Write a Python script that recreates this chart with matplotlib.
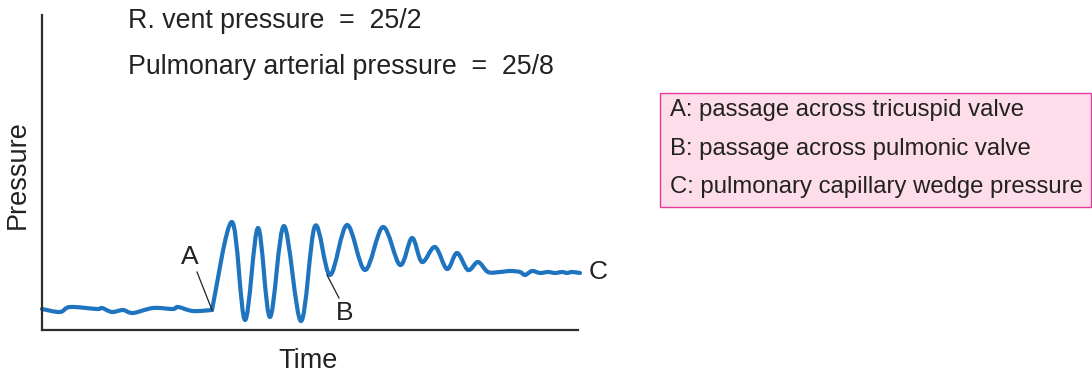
import numpy as np
import matplotlib
matplotlib.use("Agg")
import matplotlib.pyplot as plt
from matplotlib.path import Path
from matplotlib.patches import PathPatch, Rectangle

plt.rcParams["font.family"] = ["Liberation Sans", "DejaVu Sans"]

# Catheter pressure trace: time (arbitrary units) and pressure (arbitrary units)
time = [42, 60, 70, 97, 102, 112, 123, 133, 153, 173, 178, 193, 212,
        232, 245, 258, 270, 284, 301, 315, 330, 347, 365, 383, 400, 412,
        422, 435, 447, 457, 468, 478, 488, 500, 510, 520, 525, 532, 540,
        548, 555, 562, 567, 572, 580]
pressure = [21, 18, 23, 21, 22, 18, 20, 17, 22, 21, 23, 19, 20,
            108, 10, 102, 13, 104, 9, 104, 55, 105, 60, 103, 65, 92,
            68, 83, 61, 77, 60, 68, 58, 58, 59, 58, 55, 59, 57,
            58, 57, 58, 57, 58, 57]
catheter_entry = 12  # index of point A: catheter reaches the ventricle

header_lines = ["R. vent pressure  =  25/2", "Pulmonary arterial pressure  =  25/8"]
key_lines = ["A: passage across tricuspid valve",
             "B: passage across pulmonic valve",
             "C: pulmonary capillary wedge pressure"]
point_labels = ["A", "B", "C"]

W, H = 1092, 373
TXT = "#222222"
fig = plt.figure(figsize=(W / 100, H / 100), dpi=100)
ax = fig.add_axes([42 / W, (H - 330) / H, (578 - 42) / W, 315 / H])
ax.set_xlim(42, 578)
ax.set_ylim(0, 315)
ax.set_xticks([])
ax.set_yticks([])
for s in ["top", "right"]:
    ax.spines[s].set_visible(False)
for s in ["left", "bottom"]:
    ax.spines[s].set_color("#2e2e2e")
    ax.spines[s].set_linewidth(1.6)


def smooth_path(xs, ys):
    """Cubic Bezier path through the points (Catmull-Rom tangents)."""
    pts = np.column_stack([xs, ys]).astype(float)
    n = len(pts)
    verts = [pts[0]]
    codes = [Path.MOVETO]
    for i in range(n - 1):
        p0 = pts[i - 1] if i > 0 else pts[i]
        p1 = pts[i]
        p2 = pts[i + 1]
        p3 = pts[i + 2] if i + 2 < n else pts[i + 1]
        c1 = p1 + (p2 - p0) / 6.0
        c2 = p2 - (p3 - p1) / 6.0
        verts += [c1, c2, p2]
        codes += [Path.CURVE4] * 3
    return Path(verts, codes)


k = catheter_entry
for xs, ys in [(time[:k + 1], pressure[:k + 1]), (time[k:], pressure[k:])]:
    ax.add_patch(PathPatch(smooth_path(xs, ys), facecolor="none",
                           edgecolor="#1f74bf", linewidth=3.0, capstyle="round",
                           joinstyle="round", clip_on=False))

# Axis titles
fig.text(308 / W, (H - 361) / H, "Time", fontsize=19.5, color=TXT,
         ha="center", va="center")
fig.text(18 / W, (H - 175) / H, "Pressure", fontsize=19.5, color=TXT,
         ha="center", va="center", rotation=90)

# Header text
fig.text(128 / W, (H - 21) / H, header_lines[0], fontsize=19.3, color=TXT,
         va="center", ha="left")
fig.text(128 / W, (H - 67) / H, header_lines[1], fontsize=19.3, color=TXT,
         va="center", ha="left")

# Point labels with leader lines
ax.text(190, 330 - 257, point_labels[0], fontsize=19, color=TXT,
        ha="center", va="center")
ax.plot([197, 212], [330 - 272, 330 - 310], color=TXT, lw=0.9)
ax.text(345, 330 - 313, point_labels[1], fontsize=19, color=TXT,
        ha="center", va="center", clip_on=False)
ax.plot([327, 339], [330 - 275, 330 - 298], color=TXT, lw=0.9)
ax.text(598, 330 - 272, point_labels[2], fontsize=19, color=TXT,
        ha="center", va="center", clip_on=False)

# Key box
fig.patches.append(Rectangle((660 / W, (H - 207) / H), (W - 1.5 - 660) / W, 114 / H,
                             transform=fig.transFigure, facecolor="#fcdde9",
                             edgecolor="#e6399b", linewidth=1.0))
for i, line in enumerate(key_lines):
    fig.text(670 / W, (H - (110 + 38.5 * i)) / H, line, fontsize=17.2,
             color=TXT, va="center", ha="left")

fig.savefig("out.png", dpi=100)
